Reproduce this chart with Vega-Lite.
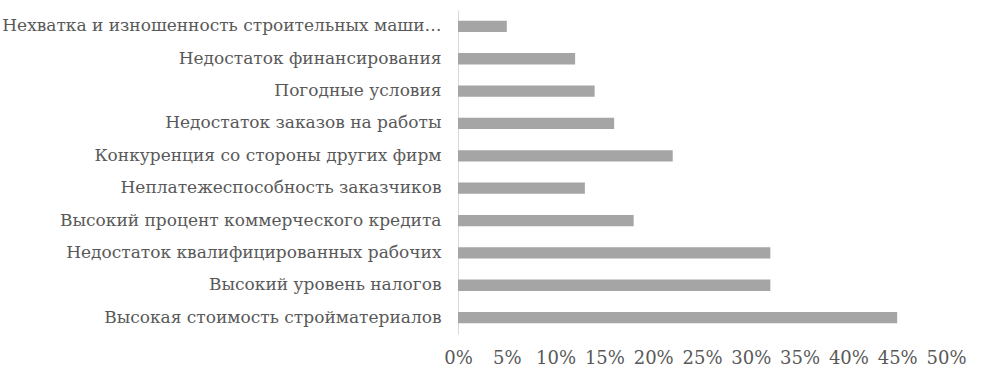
{
  "$schema": "https://vega.github.io/schema/vega-lite/v6.json",
  "autosize": {"type": "none"},
  "width": 488,
  "height": 324,
  "padding": {"left": 458, "top": 10, "right": 47, "bottom": 51},
  "background": "white",
  "data": {
    "values": [
      {"factor": "Нехватка и изношенность строительных машин и механизмов", "value": 0.05, "order": 1},
      {"factor": "Недостаток финансирования", "value": 0.12, "order": 2},
      {"factor": "Погодные условия", "value": 0.14, "order": 3},
      {"factor": "Недостаток заказов на работы", "value": 0.16, "order": 4},
      {"factor": "Конкуренция со стороны других фирм", "value": 0.22, "order": 5},
      {"factor": "Неплатежеспособность заказчиков", "value": 0.13, "order": 6},
      {"factor": "Высокий процент коммерческого кредита", "value": 0.18, "order": 7},
      {"factor": "Недостаток квалифицированных рабочих", "value": 0.32, "order": 8},
      {"factor": "Высокий уровень налогов", "value": 0.32, "order": 9},
      {"factor": "Высокая стоимость стройматериалов", "value": 0.45, "order": 10}
    ]
  },
  "mark": {"type": "bar", "color": "#a5a5a5"},
  "encoding": {
    "y": {
      "field": "factor",
      "type": "nominal",
      "sort": {"field": "order", "order": "ascending"},
      "scale": {"paddingInner": 0.65, "paddingOuter": 0.33},
      "axis": {
        "title": null,
        "ticks": false,
        "domainColor": "#d9d9d9",
        "labelFont": "DejaVu Serif",
        "labelFontSize": 17,
        "labelColor": "#595959",
        "labelPadding": 17,
        "labelLimit": 446
      }
    },
    "x": {
      "field": "value",
      "type": "quantitative",
      "scale": {"domain": [0, 0.5]},
      "axis": {
        "title": null,
        "format": ".0%",
        "values": [0, 0.05, 0.1, 0.15, 0.2, 0.25, 0.3, 0.35, 0.4, 0.45, 0.5],
        "grid": false,
        "domain": false,
        "ticks": false,
        "labelFont": "DejaVu Serif",
        "labelFontSize": 18,
        "labelColor": "#595959",
        "labelPadding": 15,
        "labelFlush": false,
        "labelOverlap": false
      }
    }
  },
  "config": {
    "view": {"stroke": null}
  }
}
